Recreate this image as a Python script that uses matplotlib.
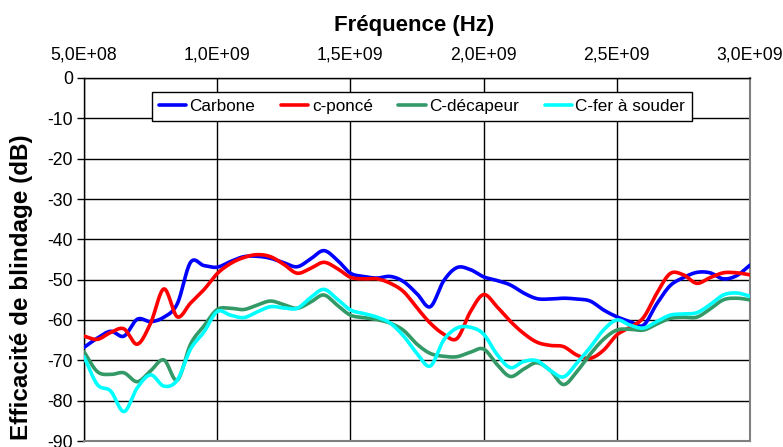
import numpy as np
import matplotlib
matplotlib.use("Agg")
import matplotlib.pyplot as plt

plt.rcParams["font.family"] = ["Liberation Sans", "DejaVu Sans"]
plt.rcParams["axes.unicode_minus"] = False

# Frequency sweep, 0.5 GHz to 3.0 GHz in 50 MHz steps
freq_hz = [0.5e9 + 0.05e9 * k for k in range(51)]

carbone = [-66.8, -64.5, -62.8, -64.0, -59.8, -60.4, -59.3, -56.0, -45.7, -46.5,
           -46.9, -45.5, -44.3, -44.2, -44.7, -45.8, -46.8, -44.9, -42.8, -45.1,
           -48.4, -49.2, -49.6, -49.2, -50.5, -53.5, -56.7, -50.3, -47.0, -47.5,
           -49.3, -50.2, -51.3, -53.3, -54.7, -54.8, -54.6, -54.8, -55.3, -57.5,
           -59.2, -60.4, -61.3, -56.0, -51.5, -49.5, -48.2, -48.3, -49.8, -49.0,
           -46.4]

c_ponce = [-64.0, -64.8, -63.1, -62.2, -66.0, -60.8, -52.3, -59.2, -55.8, -52.5,
           -48.5, -46.0, -44.5, -43.8, -44.3, -46.2, -48.4, -47.2, -45.7, -47.2,
           -49.4, -49.8, -49.8, -50.9, -53.0, -57.0, -60.8, -63.5, -64.6, -58.0,
           -53.7, -56.7, -60.3, -63.3, -65.5, -66.3, -66.6, -68.7, -69.5, -67.5,
           -63.7, -61.8, -59.4, -53.4, -48.5, -48.8, -50.9, -49.5, -48.3, -48.3,
           -48.8]

c_decapeur = [-67.9, -72.8, -73.5, -73.1, -75.3, -72.6, -69.9, -74.9, -66.0, -61.5,
              -57.4, -57.1, -57.4, -56.3, -55.3, -56.2, -57.1, -55.6, -53.8, -56.3,
              -58.8, -59.4, -59.9, -60.8, -62.6, -66.0, -68.3, -69.0, -69.1, -68.0,
              -67.2, -71.0, -74.0, -72.2, -70.6, -72.5, -76.0, -72.8, -68.5, -64.8,
              -62.5, -62.3, -62.5, -61.0, -59.6, -59.3, -59.3, -57.3, -55.0, -54.6,
              -55.0]

c_fer = [-69.1, -76.0, -77.6, -82.7, -76.8, -73.6, -76.4, -74.9, -67.2, -63.0,
         -57.9, -58.8, -59.4, -58.0, -56.7, -57.0, -57.1, -54.5, -52.4, -54.8,
         -57.5, -58.4, -59.3, -60.8, -64.0, -68.3, -71.4, -65.0, -62.0, -61.8,
         -63.5, -68.5, -71.8, -70.3, -70.1, -72.5, -74.1, -70.7, -66.8, -62.5,
         -60.0, -61.3, -62.0, -60.4, -58.8, -58.5, -58.2, -56.2, -53.8, -53.3,
         -54.1]

series_names = ["Carbone", "c-poncé", "C-décapeur", "C-fer à souder"]
series_colors = ["#0000FF", "#FF0000", "#339966", "#00FFFF"]

x_ticks = [5.0e8, 1.0e9, 1.5e9, 2.0e9, 2.5e9, 3.0e9]
x_tick_labels = ["5,0E+08", "1,0E+09", "1,5E+09", "2,0E+09", "2,5E+09", "3,0E+09"]
y_ticks = [0, -10, -20, -30, -40, -50, -60, -70, -80, -90]


def smooth(x, y, n=20):
    """Catmull-Rom interpolation through every point (spreadsheet-style smoothed line)."""
    x = np.asarray(x, float)
    y = np.asarray(y, float)
    px = np.concatenate([[2 * x[0] - x[1]], x, [2 * x[-1] - x[-2]]])
    py = np.concatenate([[2 * y[0] - y[1]], y, [2 * y[-1] - y[-2]]])
    t = np.linspace(0, 1, n, endpoint=False)
    xs, ys = [], []
    for i in range(1, len(px) - 2):
        for arr, out in ((px, xs), (py, ys)):
            p0, p1, p2, p3 = arr[i - 1], arr[i], arr[i + 1], arr[i + 2]
            out.append(0.5 * ((2 * p1) + (-p0 + p2) * t
                              + (2 * p0 - 5 * p1 + 4 * p2 - p3) * t ** 2
                              + (-p0 + 3 * p1 - 3 * p2 + p3) * t ** 3))
    xs.append([x[-1]])
    ys.append([y[-1]])
    return np.concatenate(xs), np.concatenate(ys)


W, H = 783, 447
fig = plt.figure(figsize=(W / 100, H / 100), dpi=100)
ax = fig.add_axes([84 / W, 1 - 441 / H, 666 / W, 363 / H])

for vals, name, col in zip([carbone, c_ponce, c_decapeur, c_fer], series_names, series_colors):
    xs, ys = smooth(freq_hz, vals)
    ax.plot(xs, ys, color=col, lw=2.6, label=name, solid_capstyle="round", zorder=3)

ax.set_xlim(5.0e8, 3.0e9)
ax.set_ylim(-90, 0)
ax.xaxis.tick_top()
ax.set_xticks(x_ticks)
ax.set_xticklabels(x_tick_labels, fontsize=12.7)
ax.set_yticks(y_ticks)
ax.set_yticklabels([str(v) for v in y_ticks], fontsize=12.7)
ax.tick_params(axis="x", length=0, pad=10.5)
ax.tick_params(axis="y", length=5, width=1, color="black", pad=3)

ax.grid(True, color="black", lw=1.0, zorder=1)
ax.set_axisbelow(True)
for side in ["right", "bottom"]:
    ax.spines[side].set_color("#808080")
    ax.spines[side].set_linewidth(1.5)
for side in ["left", "top"]:
    ax.spines[side].set_color("black")
    ax.spines[side].set_linewidth(1.0)

fig.text(414 / W, 1 - 26 / H, "Fréquence (Hz)", fontsize=16, fontweight="bold",
         ha="center", va="center")
fig.text(22 / W, 1 - 287 / H, "Efficacité de blindage (dB)", fontsize=17.5,
         fontweight="bold", rotation=90, ha="center", va="center")

leg = ax.legend(loc="upper left", bbox_to_anchor=(152 / W, 1 - 92 / H),
                bbox_transform=fig.transFigure, ncol=4, fontsize=12.3,
                frameon=True, fancybox=False, shadow=False, handlelength=1.6,
                handletextpad=0.2, columnspacing=1.5, borderpad=0.4,
                borderaxespad=0)
leg.get_frame().set_edgecolor("black")
leg.get_frame().set_linewidth(1.0)
leg.get_frame().set_alpha(1.0)

fig.savefig("out.png", dpi=100)
